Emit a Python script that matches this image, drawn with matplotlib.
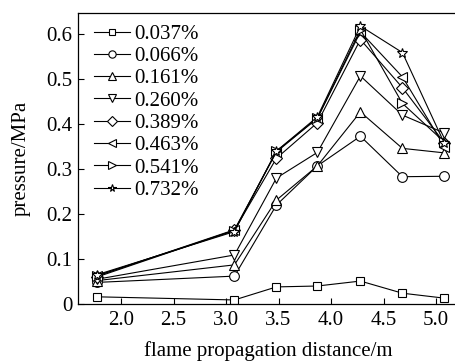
import numpy as np
import matplotlib.pyplot as plt
from matplotlib.ticker import FuncFormatter

plt.rcParams['font.family'] = ['Liberation Serif', 'DejaVu Serif']

# distancias dos sensores (m)
distance = [1.77, 3.08, 3.48, 3.87, 4.28, 4.68, 5.08]

# pressao (MPa) para cada concentracao
p_0037 = [0.016, 0.009, 0.038, 0.040, 0.051, 0.024, 0.013]
p_0066 = [0.048, 0.062, 0.220, 0.307, 0.373, 0.283, 0.284]
p_0161 = [0.052, 0.087, 0.231, 0.307, 0.427, 0.346, 0.336]
p_0260 = [0.055, 0.109, 0.280, 0.337, 0.507, 0.420, 0.380]
p_0389 = [0.060, 0.164, 0.324, 0.403, 0.588, 0.481, 0.358]
p_0463 = [0.062, 0.165, 0.338, 0.413, 0.605, 0.505, 0.350]
p_0541 = [0.063, 0.163, 0.340, 0.413, 0.610, 0.446, 0.360]
p_0732 = [0.065, 0.161, 0.340, 0.416, 0.618, 0.559, 0.357]

labels = ["0.037%", "0.066%", "0.161%", "0.260%", "0.389%", "0.463%", "0.541%", "0.732%"]
series = [p_0037, p_0066, p_0161, p_0260, p_0389, p_0463, p_0541, p_0732]
markers = ["s", "o", "^", "v", "D", "<", ">", "*"]
msizes = [5.3, 7, 7.5, 7.5, 6.5, 7.5, 7.5, 7.5]

fig = plt.figure(figsize=(4.55, 3.63), dpi=100)
# o eixo direito fica fora da imagem, como no original
ax = fig.add_axes([78 / 455, 59 / 363, 381 / 455, (304 - 13) / 363])

for y, lab, m, ms in zip(series, labels, markers, msizes):
    ax.plot(distance, y, color="black", lw=0.8, marker=m, ms=ms,
            markerfacecolor="white", markeredgecolor="black", markeredgewidth=0.8,
            label=lab)

ax.set_xlim(1.590, 5.219)
ax.set_ylim(0, 0.647)
ax.set_xticks([2.0, 2.5, 3.0, 3.5, 4.0, 4.5, 5.0])
ax.set_yticks([0, 0.1, 0.2, 0.3, 0.4, 0.5, 0.6])
ax.xaxis.set_major_formatter(FuncFormatter(lambda v, p: "%.1f" % v))
ax.yaxis.set_major_formatter(FuncFormatter(lambda v, p: "0" if v == 0 else "%.1f" % v))
ax.tick_params(direction="in", labelsize=15, length=4, width=0.8)
ax.tick_params(axis="y", pad=4)
ax.tick_params(axis="x", pad=5)
for s in ax.spines.values():
    s.set_linewidth(0.9)

ax.set_xlabel("flame propagation distance/m", fontsize=15, labelpad=8)
ax.set_ylabel("pressure/MPa", fontsize=15, labelpad=11)

ax.legend(loc="upper left", frameon=False, fontsize=15, handlelength=1.75,
          labelspacing=0.13, handletextpad=0.2, borderaxespad=0.35,
          markerscale=0.75, bbox_to_anchor=(0.0, 1.015))

fig.savefig("out.png", dpi=100)
